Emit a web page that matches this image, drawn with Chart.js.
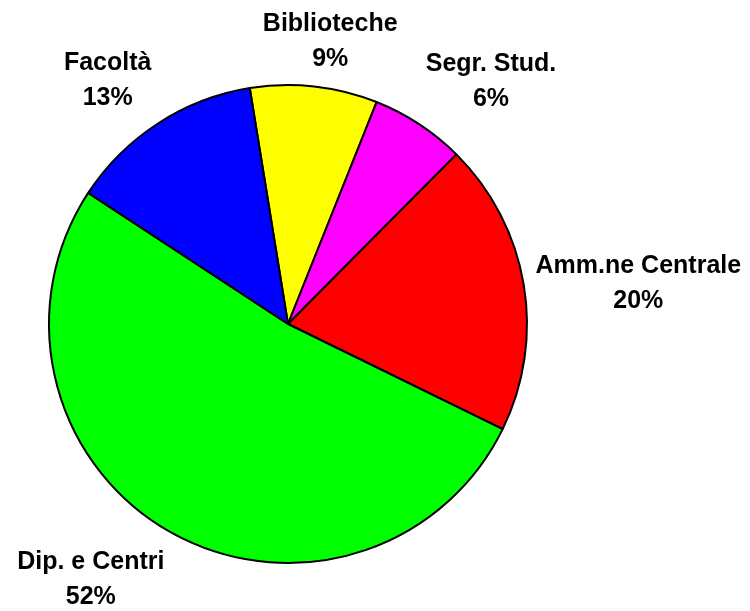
<!DOCTYPE html>
<html>
<head>
<meta charset="utf-8">
<script src="https://cdn.jsdelivr.net/npm/chart.js@4"></script>
<style>
  html, body { margin: 0; padding: 0; background: #fff; }
</style>
</head>
<body>
<canvas id="pieChart" width="750" height="611"></canvas>
<script>
// Dati (quote in %)
const categorie = ['Biblioteche', 'Segr. Stud.', 'Amm.ne Centrale', 'Dip. e Centri', 'Facoltà'];
const quote = [8.6, 6.4, 19.8, 52.0, 13.2];
const colori = ['#FFFF00', '#FF00FF', '#FF0000', '#00FF00', '#0000FF'];

const FONT = 'bold 25px "Liberation Sans", Arial, sans-serif';
const LINE_GAP = 35;
const CAP = 9; // metà altezza maiuscole, per centrare sulle lettere

// etichette fuori dalla torta: nome + percentuale
const etichette = {
    id: 'etichette',
    afterDraw(chart) {
        const ctx = chart.ctx;
        const meta = chart.getDatasetMeta(0);
        const dati = chart.data.datasets[0].data;
        const totale = dati.reduce((a, b) => a + b, 0);
        const clamp = v => Math.max(-1, Math.min(1, v));
        ctx.save();
        ctx.font = FONT;
        ctx.fillStyle = '#000';
        ctx.textAlign = 'center';
        ctx.textBaseline = 'alphabetic';
        meta.data.forEach((arc, i) => {
            const p = arc.getProps(['x', 'y', 'startAngle', 'endAngle', 'outerRadius'], true);
            const mid = (p.startAngle + p.endAngle) / 2;
            const r = p.outerRadius + 12;
            const ax = p.x + Math.cos(mid) * r;
            const ay = p.y + Math.sin(mid) * r;
            const testo1 = chart.data.labels[i];
            const testo2 = Math.round(dati[i] / totale * 100) + '%';
            const w = Math.max(ctx.measureText(testo1).width, ctx.measureText(testo2).width);
            const cx = ax + (w / 2) * clamp(2 * Math.cos(mid));
            const cy = ay + 35 * Math.pow(clamp(2 * Math.sin(mid)), 3);
            ctx.fillText(testo1, cx, cy - LINE_GAP / 2 + CAP);
            ctx.fillText(testo2, cx, cy + LINE_GAP / 2 + CAP);
        });
        ctx.restore();
    }
};

const ctx = document.getElementById('pieChart').getContext('2d');
new Chart(ctx, {
    type: 'pie',
    data: {
        labels: categorie,
        datasets: [{
            data: quote,
            backgroundColor: colori,
            borderColor: '#000',
            borderWidth: 2
        }]
    },
    options: {
        responsive: false,
        animation: false,
        rotation: -9.2,
        radius: 239,
        layout: {
            padding: { left: 48, right: 222, top: 85, bottom: 48 }
        },
        plugins: {
            legend: { display: false },
            tooltip: { enabled: false }
        }
    },
    plugins: [etichette]
});
</script>
</body>
</html>
